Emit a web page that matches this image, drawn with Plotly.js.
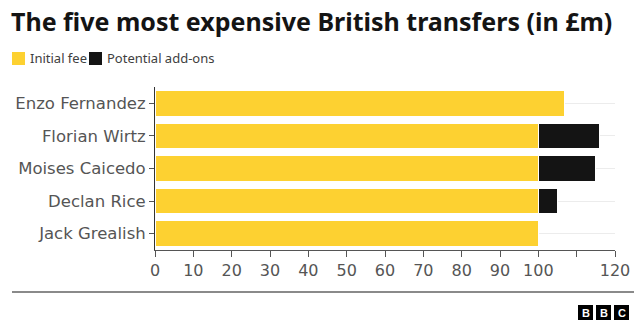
<!DOCTYPE html>
<html>
<head>
<meta charset="utf-8">
<script src="https://cdn.plot.ly/plotly-3.0.1.min.js"></script>
<style>html,body{margin:0;padding:0;background:#fff;}#chart{width:640px;height:334px;}</style>
</head>
<body>
<div id="chart"></div>
<script>
const players = ["Enzo Fernandez", "Florian Wirtz", "Moises Caicedo", "Declan Rice", "Jack Grealish"];
const initialFee = [106.8, 100, 100, 100, 100];
const addOns = [null, 16, 15, 5, null];
const xTickVals = [0, 10, 20, 30, 40, 50, 60, 70, 80, 90, 100, 110, 120];
const xTickText = ["0", "10", "20", "30", "40", "50", "60", "70", "80", "90", "100", "", "120"];
const seriesNames = ["Initial fee", "Potential add-ons"];
const seriesColors = ["#FDD131", "#141414"];

const W = 640, H = 334;
const M = {l: 155, r: 25, t: 87, b: 84};
const pw = W - M.l - M.r, ph = H - M.t - M.b;
const px = x => (x - M.l) / pw;
const py = y => 1 - (y - M.t) / ph;
const FONT = "Noto Sans, Open Sans, sans-serif";
const TICKFONT = "DejaVu Sans, Noto Sans, sans-serif";

const traces = [
  {type: "bar", orientation: "h", y: players, x: initialFee, name: seriesNames[0],
   marker: {color: seriesColors[0], line: {color: "#ffffff", width: 1}}, hoverinfo: "skip"},
  {type: "bar", orientation: "h", y: players, x: addOns, name: seriesNames[1],
   marker: {color: seriesColors[1], line: {color: "#ffffff", width: 1}}, hoverinfo: "skip"}
];

const shapes = [];
const annotations = [];
// legend
const legendItems = [
  {x0: 12, textX: 28},
  {x0: 89, textX: 105}
];
legendItems.forEach((it, i) => {
  shapes.push({type: "rect", xref: "paper", yref: "paper",
    x0: px(it.x0), x1: px(it.x0 + 13), y0: py(52), y1: py(65),
    fillcolor: seriesColors[i], line: {width: 0}});
  annotations.push({xref: "paper", yref: "paper", x: px(it.textX), y: py(58.5),
    xanchor: "left", yanchor: "middle", showarrow: false, text: seriesNames[i],
    font: {family: FONT, size: 13, color: "#404040"}});
});
// separator line
shapes.push({type: "line", xref: "paper", yref: "paper",
  x0: px(12), x1: px(634), y0: py(292), y1: py(292),
  line: {color: "#8a8a8a", width: 2}});
// BBC logo
["B", "B", "C"].forEach((ch, i) => {
  const x0 = 578 + i * 18;
  shapes.push({type: "rect", xref: "paper", yref: "paper",
    x0: px(x0), x1: px(x0 + 15), y0: py(305), y1: py(320),
    fillcolor: "#000000", line: {width: 0}});
  annotations.push({xref: "paper", yref: "paper", x: px(x0 + 7.5), y: py(312.5),
    xanchor: "center", yanchor: "middle", showarrow: false, text: "<b>" + ch + "</b>",
    font: {family: "Liberation Sans, Arial, sans-serif", size: 11, color: "#ffffff"}});
});

const layout = {
  width: W, height: H,
  margin: M,
  paper_bgcolor: "#ffffff", plot_bgcolor: "#ffffff",
  showlegend: false,
  barmode: "stack",
  bargap: 0.21,
  title: {text: "<b>The five most expensive British transfers (in £m)</b>",
    xref: "container", yref: "container", x: 11 / W, xanchor: "left",
    y: 1 - 22 / H, yanchor: "middle",
    font: {family: FONT, size: 25, color: "#141414"}},
  xaxis: {range: [0, 120], tickvals: xTickVals, ticktext: xTickText,
    showgrid: false, zeroline: false, showline: true, linecolor: "#555555", linewidth: 1,
    ticks: "outside", ticklen: 6, tickcolor: "#555555",
    tickfont: {family: TICKFONT, size: 16, color: "#555555"}, fixedrange: true},
  yaxis: {type: "category", categoryorder: "array", categoryarray: players, autorange: "reversed",
    showgrid: true, gridcolor: "#ececec", gridwidth: 1,
    showline: true, linecolor: "#333333", linewidth: 1,
    ticks: "outside", ticklen: 5, tickcolor: "#555555",
    tickfont: {family: TICKFONT, size: 16.5, color: "#555555"}, fixedrange: true},
  shapes: shapes,
  annotations: annotations
};

Plotly.newPlot("chart", traces, layout, {displayModeBar: false, staticPlot: true});
</script>
</body>
</html>
